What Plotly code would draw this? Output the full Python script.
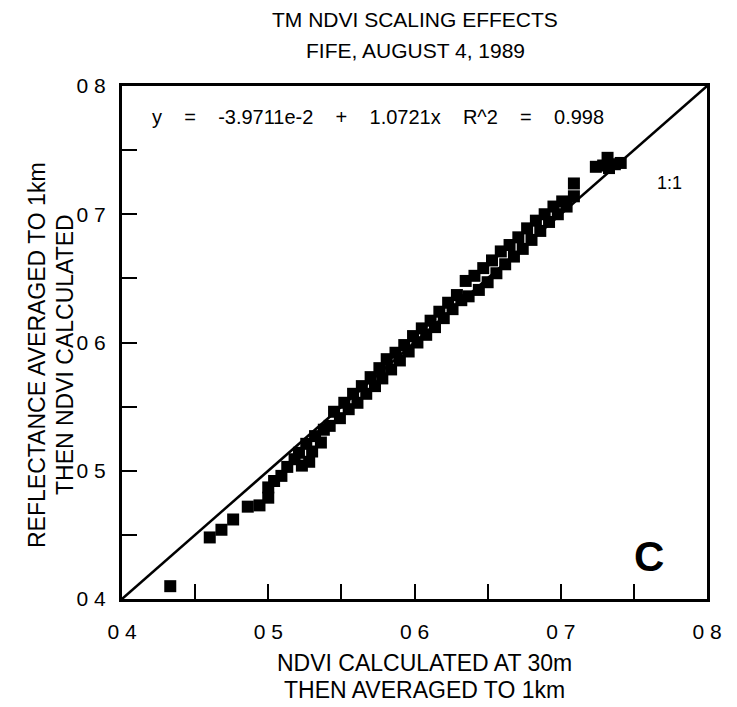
import plotly.graph_objects as go

# ---- data ----
ndvi_30m = [
    0.433, 0.460, 0.468, 0.476, 0.486, 0.494, 0.500, 0.500, 0.504, 0.509,
    0.513, 0.518, 0.521, 0.523, 0.528, 0.526, 0.530, 0.532, 0.536, 0.538,
    0.542, 0.545, 0.549, 0.552, 0.555, 0.558, 0.561, 0.564, 0.567, 0.570,
    0.573, 0.576, 0.578, 0.581, 0.584, 0.587, 0.590, 0.593, 0.596, 0.599,
    0.602, 0.605, 0.608, 0.611, 0.614, 0.617, 0.620, 0.623, 0.626, 0.629,
    0.632, 0.635, 0.637, 0.641, 0.644, 0.647, 0.650, 0.653, 0.656, 0.659,
    0.662, 0.665, 0.668, 0.671, 0.674, 0.677, 0.680, 0.683, 0.686, 0.689,
    0.692, 0.695, 0.698, 0.701, 0.704, 0.709, 0.709, 0.724, 0.729, 0.732,
    0.733, 0.737, 0.741,
]
ndvi_1km = [
    0.410, 0.448, 0.454, 0.462, 0.472, 0.473, 0.479, 0.487, 0.492, 0.496,
    0.503, 0.509, 0.514, 0.504, 0.507, 0.521, 0.515, 0.527, 0.522, 0.532,
    0.535, 0.546, 0.541, 0.553, 0.548, 0.560, 0.553, 0.566, 0.560, 0.573,
    0.566, 0.580, 0.572, 0.587, 0.579, 0.592, 0.586, 0.598, 0.593, 0.605,
    0.600, 0.611, 0.606, 0.617, 0.612, 0.624, 0.619, 0.631, 0.626, 0.637,
    0.633, 0.648, 0.636, 0.652, 0.641, 0.658, 0.647, 0.664, 0.654, 0.671,
    0.661, 0.676, 0.667, 0.682, 0.673, 0.689, 0.680, 0.695, 0.687, 0.700,
    0.694, 0.706, 0.700, 0.710, 0.706, 0.724, 0.714, 0.737, 0.738, 0.744,
    0.736, 0.739, 0.740,
]
one_to_one_x = [0.4, 0.8]
one_to_one_y = [0.4, 0.8]

tick_vals = [0.40, 0.45, 0.50, 0.55, 0.60, 0.65, 0.70, 0.75, 0.80]
tick_text = ["0 4", "", "0 5", "", "0 6", "", "0 7", "", "0 8"]

title_lines = ["TM NDVI SCALING EFFECTS", "FIFE, AUGUST 4, 1989"]
x_title_lines = ["NDVI CALCULATED AT 30m", "THEN AVERAGED TO 1km"]
y_title_lines = ["REFLECTANCE AVERAGED TO 1km", "THEN NDVI CALCULATED"]
SP = "\u00a0" * 4
equation = SP.join(["y", "=", "-3.9711e-2", "+", "1.0721x", "R^2", "=", "0.998"])

FONT = "Liberation Sans, Arial, Helvetica, sans-serif"

fig = go.Figure()
fig.add_trace(go.Scatter(
    x=one_to_one_x, y=one_to_one_y, mode="lines",
    line=dict(color="black", width=2.5), hoverinfo="skip", showlegend=False,
))
fig.add_trace(go.Scatter(
    x=ndvi_30m, y=ndvi_1km, mode="markers",
    marker=dict(symbol="square", size=12, color="black", line=dict(width=0)),
    showlegend=False,
))

axis_common = dict(
    range=[0.4, 0.8], tickmode="array", tickvals=tick_vals, ticktext=tick_text,
    ticks="inside", ticklen=15, tickwidth=2, tickcolor="black",
    showline=True, linewidth=3, linecolor="black", mirror=True,
    showgrid=False, zeroline=False,
    tickfont=dict(family=FONT, size=21, color="black"),
)
fig.update_xaxes(**axis_common, ticklabelstandoff=12)
fig.update_yaxes(**axis_common, ticklabelstandoff=9)

fig.update_layout(
    width=737, height=707,
    margin=dict(l=122, r=30, t=86, b=108),
    paper_bgcolor="white", plot_bgcolor="white",
    font=dict(family=FONT, color="black"),
)

def px_y(py):
    # convert pixel y (from top of page) into paper coordinates
    return (707 - 108 - py) / (707 - 108 - 86)

def px_x(px):
    return (px - 122) / (737 - 122 - 30)

annotations = [
    dict(text=title_lines[0], x=px_x(415), y=px_y(19), size=21),
    dict(text=title_lines[1], x=px_x(415), y=px_y(50), size=21),
    dict(text=x_title_lines[0], x=px_x(424), y=px_y(663), size=23),
    dict(text=x_title_lines[1], x=px_x(424), y=px_y(690), size=23),
    dict(text=y_title_lines[0], x=px_x(37), y=px_y(355), size=23, angle=-90),
    dict(text=y_title_lines[1], x=px_x(65), y=px_y(355), size=23, angle=-90),
    dict(text=equation, x=px_x(378), y=px_y(117), size=20),
    dict(text="1:1", x=px_x(669), y=px_y(183), size=18),
    dict(text="<b>C</b>", x=px_x(649), y=px_y(556), size=42),
]
fig.update_layout(annotations=[
    dict(text=a["text"], x=a["x"], y=a["y"], xref="paper", yref="paper",
         xanchor="center", yanchor="middle", showarrow=False,
         textangle=a.get("angle", 0),
         font=dict(family=FONT, size=a["size"], color="black"))
    for a in annotations
])

fig.write_html("out.html")
